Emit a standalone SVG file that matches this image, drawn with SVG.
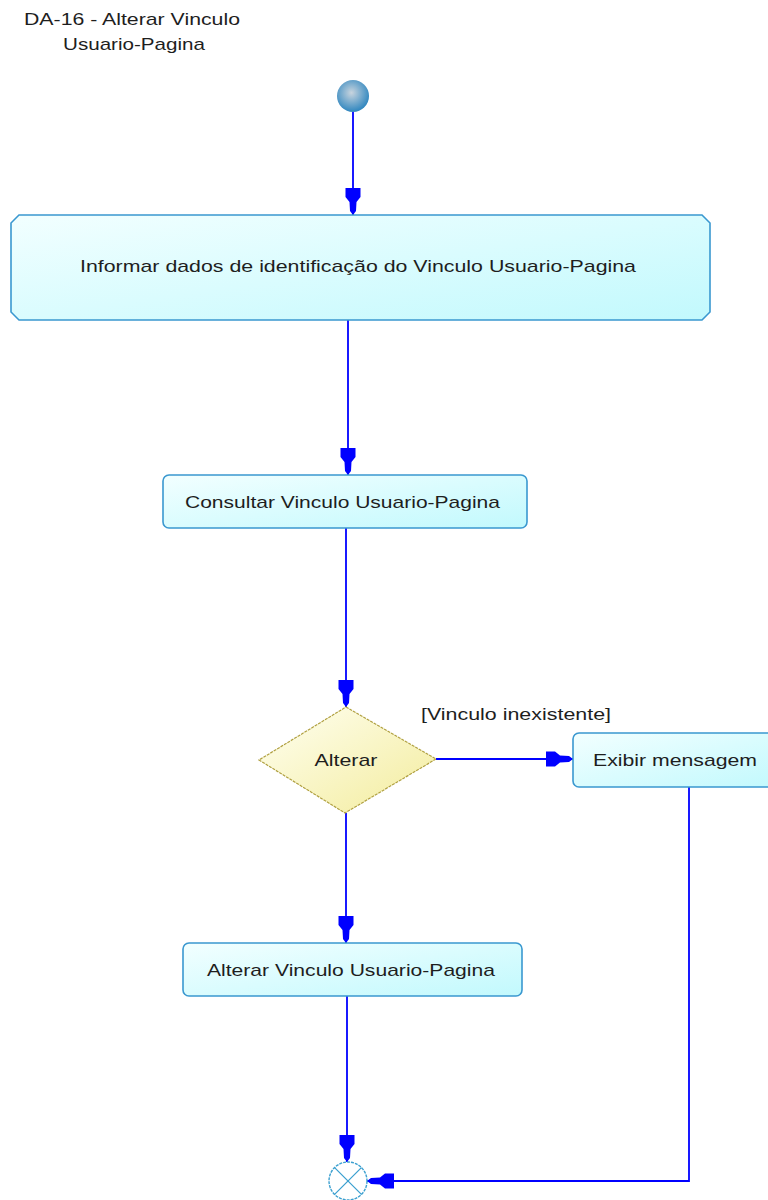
<svg xmlns="http://www.w3.org/2000/svg" width="768" height="1200" viewBox="0 0 768 1200">
<defs>
<linearGradient id="gBox" x1="0" y1="0" x2="1" y2="1">
<stop offset="0" stop-color="#f2ffff"/>
<stop offset="1" stop-color="#c2f9fd"/>
</linearGradient>
<linearGradient id="gDia" x1="0" y1="0" x2="1" y2="1">
<stop offset="0" stop-color="#fffff2"/>
<stop offset="1" stop-color="#f3ec9c"/>
</linearGradient>
<radialGradient id="gStart" cx="0.45" cy="0.4" r="0.6">
<stop offset="0" stop-color="#c8d4de"/>
<stop offset="1" stop-color="#2f86bf"/>
</radialGradient>
<marker id="arr" viewBox="-30 -10 32 20" markerWidth="32" markerHeight="20" refX="0" refY="0" orient="auto" markerUnits="userSpaceOnUse" overflow="visible">
<path d="M0,0 L-4,-3 L-13,-3.5 L-18,-7.5 L-27,-7.5 L-27,7.5 L-18,7.5 L-13,3.5 L-4,3 Z" fill="#0000ff"/>
</marker>
</defs>
<style>
text{font-family:"Liberation Sans",Arial,sans-serif;font-size:17px;fill:#1e1e1e}
.box{fill:url(#gBox);stroke:#3a98d0;stroke-width:1.6}
.con{fill:none;stroke:#0000ff;stroke-width:1.8}
</style>
<g id="title">
<text x="24" y="25" textLength="216" lengthAdjust="spacingAndGlyphs">DA-16 - Alterar Vinculo</text>
<text x="63" y="50" textLength="142" lengthAdjust="spacingAndGlyphs">Usuario-Pagina</text>
</g>
<g id="connectors">
<path class="con" d="M353,112 V215" marker-end="url(#arr)"/>
<path class="con" d="M348,320 V475" marker-end="url(#arr)"/>
<path class="con" d="M346,528 V707" marker-end="url(#arr)"/>
<path class="con" d="M436,759 H573" marker-end="url(#arr)"/>
<path class="con" d="M346,813 V943" marker-end="url(#arr)"/>
<path class="con" d="M347,996 V1162" marker-end="url(#arr)"/>
<path class="con" d="M689,787 V1181 H367" marker-end="url(#arr)"/>
<text x="421" y="720" textLength="190" lengthAdjust="spacingAndGlyphs">[Vinculo inexistente]</text>
</g>
<g id="start">
<circle cx="353" cy="96" r="16" fill="url(#gStart)"/>
</g>
<g id="informar">
<path class="box" d="M19,215 H702 L710,223 V312 L702,320 H19 L11,312 V223 Z"/>
<text x="80" y="272" textLength="556" lengthAdjust="spacingAndGlyphs">Informar dados de identificação do Vinculo Usuario-Pagina</text>
</g>
<g id="consultar">
<rect class="box" x="163" y="475" width="364" height="53" rx="6"/>
<text x="185" y="508" textLength="315" lengthAdjust="spacingAndGlyphs">Consultar Vinculo Usuario-Pagina</text>
</g>
<g id="decisao">
<path d="M346,707 L436,759 L345,813 L259,760 Z" fill="url(#gDia)" stroke="#b0a040" stroke-width="1.2" stroke-dasharray="3,1"/>
<text x="346" y="766" text-anchor="middle" textLength="63" lengthAdjust="spacingAndGlyphs">Alterar</text>
</g>
<g id="exibir">
<rect class="box" x="573" y="733" width="206" height="54" rx="6"/>
<text x="593" y="766" textLength="164" lengthAdjust="spacingAndGlyphs">Exibir mensagem</text>
</g>
<g id="alterar">
<rect class="box" x="183" y="943" width="339" height="53" rx="6"/>
<text x="207" y="976" textLength="288" lengthAdjust="spacingAndGlyphs">Alterar Vinculo Usuario-Pagina</text>
</g>
<g id="final">
<circle cx="348" cy="1181" r="19" fill="#ffffff" stroke="#3ca0d0" stroke-width="1.4" stroke-dasharray="3,1"/>
<path d="M334.6,1167.6 L361.4,1194.4 M361.4,1167.6 L334.6,1194.4" stroke="#3ca0d0" stroke-width="1.3"/>
</g>
</svg>
